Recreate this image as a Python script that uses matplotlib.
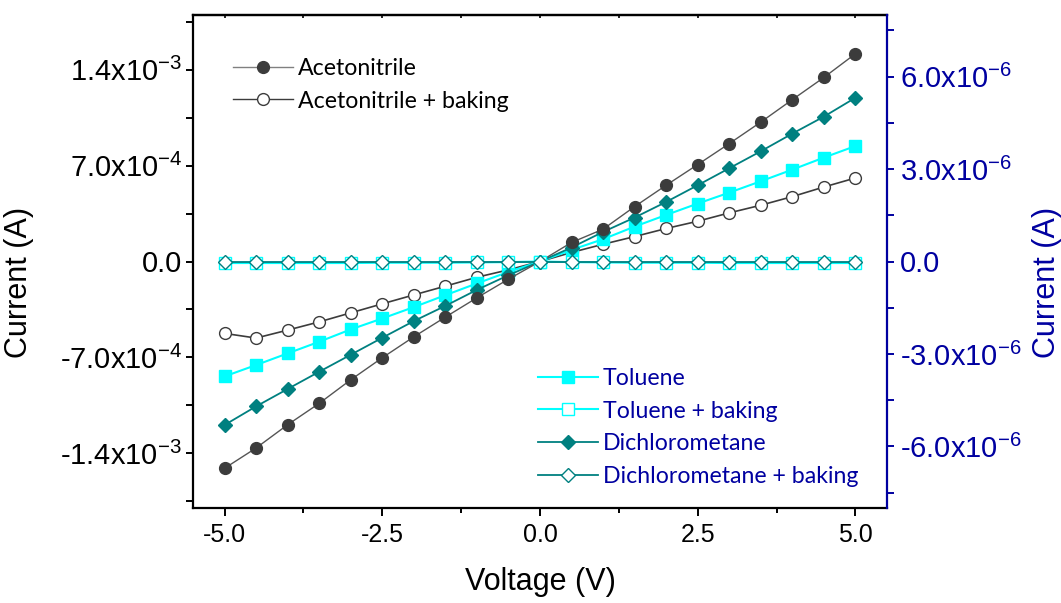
import matplotlib
matplotlib.use("Agg")
import matplotlib.pyplot as plt
from matplotlib.lines import Line2D
from matplotlib.ticker import FixedLocator, FixedFormatter, MultipleLocator, NullFormatter

plt.rcParams['font.family'] = ['Liberation Sans', 'DejaVu Sans']
plt.rcParams['mathtext.fontset'] = 'custom'
plt.rcParams['mathtext.rm'] = 'Liberation Sans'
plt.rcParams['mathtext.it'] = 'Liberation Sans:italic'
plt.rcParams['mathtext.bf'] = 'Liberation Sans:bold'

# ---------------- data ----------------
voltage = [-5.0, -4.5, -4.0, -3.5, -3.0, -2.5, -2.0, -1.5, -1.0, -0.5, 0.0,
           0.5, 1.0, 1.5, 2.0, 2.5, 3.0, 3.5, 4.0, 4.5, 5.0]

# left axis, current in mA (x1e-3 A)
acetonitrile = [-1.510, -1.362, -1.192, -1.036, -0.864, -0.703, -0.550, -0.406, -0.265, -0.129, 0.0,
                0.139, 0.236, 0.401, 0.557, 0.708, 0.861, 1.018, 1.182, 1.344, 1.517]
acetonitrile_baking = [-0.525, -0.559, -0.501, -0.441, -0.375, -0.309, -0.244, -0.180, -0.115, -0.061, 0.0,
                       0.066, 0.126, 0.182, 0.241, 0.294, 0.355, 0.411, 0.474, 0.544, 0.610]
toluene = [-0.839, -0.756, -0.671, -0.586, -0.496, -0.416, -0.333, -0.246, -0.160, -0.076, 0.0,
           0.085, 0.163, 0.255, 0.340, 0.423, 0.503, 0.586, 0.671, 0.759, 0.843]
dichloromethane = [-1.194, -1.058, -0.931, -0.805, -0.681, -0.557, -0.435, -0.324, -0.207, -0.100, 0.0,
                   0.102, 0.216, 0.321, 0.435, 0.557, 0.681, 0.805, 0.934, 1.058, 1.196]

# right axis, current in uA (x1e-6 A)
toluene_baking = [-0.05, -0.05, -0.05, -0.05, -0.05, -0.04, -0.04, -0.04, -0.03, -0.02, 0.0,
                  -0.02, -0.03, -0.04, -0.04, -0.04, -0.05, -0.05, -0.05, -0.05, -0.05]
dichloromethane_baking = [0.0, 0.0, 0.0, 0.0, 0.0, 0.0, 0.0, 0.0, 0.0, 0.0, 0.0,
                          0.0, 0.0, 0.0, 0.0, 0.0, 0.0, 0.0, 0.0, 0.0, 0.0]

x_ticks = [-5.0, -2.5, 0.0, 2.5, 5.0]
x_tick_labels = ['-5.0', '-2.5', '0.0', '2.5', '5.0']
left_ticks = [-1.4, -0.7, 0.0, 0.7, 1.4]
left_tick_labels = ['-1.4x10$^{-3}$', '-7.0x10$^{-4}$', '0.0', '7.0x10$^{-4}$', '1.4x10$^{-3}$']
right_ticks = [-6.0, -3.0, 0.0, 3.0, 6.0]
right_tick_labels = ['-6.0x10$^{-6}$', '-3.0x10$^{-6}$', '0.0', '3.0x10$^{-6}$', '6.0x10$^{-6}$']

# ---------------- style ----------------
DARK = '#3c3c3c'
CYAN = '#00FFFF'
TEAL = '#008080'
NAVY = '#0000A0'

fig = plt.figure(figsize=(10.61, 6.03), dpi=100)
ax = fig.add_axes([193/1061, 1-508/603, (887-193)/1061, (508-15)/603])
ax2 = ax.twinx()

ms = 8.5
ax.plot(voltage, acetonitrile_baking, '-o', color=DARK, lw=1.2, ms=ms,
        mfc='white', mec=DARK, mew=1.0, zorder=3)
ax.plot(voltage, toluene, '-s', color=CYAN, lw=1.5, ms=8, mfc=CYAN, mec=CYAN, zorder=3)
ax.plot(voltage, dichloromethane, '-D', color=TEAL, lw=1.3, ms=7.5, mfc=TEAL, mec=TEAL, zorder=3)
ax.plot(voltage, acetonitrile, '-o', color='#555555', lw=1.0, ms=ms,
        mfc=DARK, mec=DARK, zorder=3)

ax2.plot(voltage, toluene_baking, '-s', color=CYAN, lw=1.5, ms=8, mfc='white', mec=CYAN, mew=1.0)
ax2.plot(voltage, dichloromethane_baking, '-D', color=TEAL, lw=1.3, ms=7.5, mfc='white', mec=TEAL, mew=1.0)

ax.set_xlim(-5.5, 5.5)
ax.set_ylim(-1.8, 1.8)
ax2.set_ylim(-8.0, 8.0)

ax.xaxis.set_major_locator(FixedLocator(x_ticks))
ax.xaxis.set_major_formatter(FixedFormatter(x_tick_labels))
ax.xaxis.set_minor_locator(MultipleLocator(1.25))
ax.yaxis.set_major_locator(FixedLocator(left_ticks))
ax.yaxis.set_major_formatter(FixedFormatter(left_tick_labels))
ax.yaxis.set_minor_locator(MultipleLocator(0.35))
ax2.yaxis.set_major_locator(FixedLocator(right_ticks))
ax2.yaxis.set_major_formatter(FixedFormatter(right_tick_labels))
ax2.yaxis.set_minor_locator(MultipleLocator(1.5))

for s in ['left', 'bottom', 'top']:
    ax.spines[s].set_linewidth(1.6)
    ax.spines[s].set_color('black')
ax.spines['right'].set_visible(False)
for s in ['left', 'bottom', 'top']:
    ax2.spines[s].set_visible(False)
ax2.spines['right'].set_color(NAVY)
ax2.spines['right'].set_linewidth(1.6)

ax.tick_params(axis='x', which='major', direction='out', length=6, width=1.4,
               labelsize=18, pad=5)
ax.tick_params(axis='x', which='minor', direction='out', length=3.5, width=1.4)
ax.tick_params(axis='y', which='major', direction='out', length=5, width=1.4,
               labelsize=21, pad=3)
ax.tick_params(axis='y', which='minor', direction='out', length=5, width=1.4)
ax2.tick_params(axis='y', which='major', direction='out', length=5, width=1.4,
                labelsize=21, pad=4, colors=NAVY)
ax2.tick_params(axis='y', which='minor', direction='out', length=5, width=1.4, colors=NAVY)

# small inward ticks along the top frame
top = ax.secondary_xaxis('top')
top.xaxis.set_major_locator(FixedLocator(x_ticks))
top.xaxis.set_minor_locator(MultipleLocator(1.25))
top.xaxis.set_major_formatter(NullFormatter())
top.tick_params(axis='x', which='both', direction='in', length=2.5, width=1.2)
top.spines['top'].set_linewidth(1.6)

# axis labels (figure coordinates, partly outside like the reference)
fig.text(540/1061, 1-582/603, 'Voltage (V)', ha='center', va='center', fontsize=22)
fig.text(34/1061, 1-282/603, 'Current (A)', rotation=90, ha='right', va='center', fontsize=22)
fig.text(1032/1061, 1-282/603, 'Current (A)', rotation=90, ha='left', va='center',
         fontsize=22, color=NAVY)

# legends
leg_font = {'family': 'Lato', 'size': 16.7}
h1 = [Line2D([], [], color='#808080', lw=1.0, marker='o', ms=ms, mfc=DARK, mec=DARK),
      Line2D([], [], color=DARK, lw=1.0, marker='o', ms=ms, mfc='white', mec=DARK)]
leg1 = ax2.legend(h1, ['Acetonitrile', 'Acetonitrile + baking'], loc='upper left',
                  bbox_to_anchor=(233/1061, 1-58/603), bbox_transform=fig.transFigure,
                  frameon=False, prop=leg_font, handlelength=2.6, handletextpad=0.2,
                  borderpad=0, borderaxespad=0, labelspacing=0.5)
ax2.add_artist(leg1)

h2 = [Line2D([], [], color=CYAN, lw=1.5, marker='s', ms=8, mfc=CYAN, mec=CYAN),
      Line2D([], [], color=CYAN, lw=1.5, marker='s', ms=8, mfc='white', mec=CYAN),
      Line2D([], [], color=TEAL, lw=1.3, marker='D', ms=7.5, mfc=TEAL, mec=TEAL),
      Line2D([], [], color=TEAL, lw=1.3, marker='D', ms=7.5, mfc='white', mec=TEAL)]
leg2 = ax2.legend(h2, ['Toluene', 'Toluene + baking', 'Dichlorometane', 'Dichlorometane + baking'],
                  loc='upper left', bbox_to_anchor=(538/1061, 1-368/603),
                  bbox_transform=fig.transFigure, frameon=False, prop=leg_font,
                  handlelength=2.6, handletextpad=0.2, borderpad=0, borderaxespad=0,
                  labelspacing=0.5)
for t in leg2.get_texts():
    t.set_color(NAVY)

fig.savefig('out.png', dpi=100)
